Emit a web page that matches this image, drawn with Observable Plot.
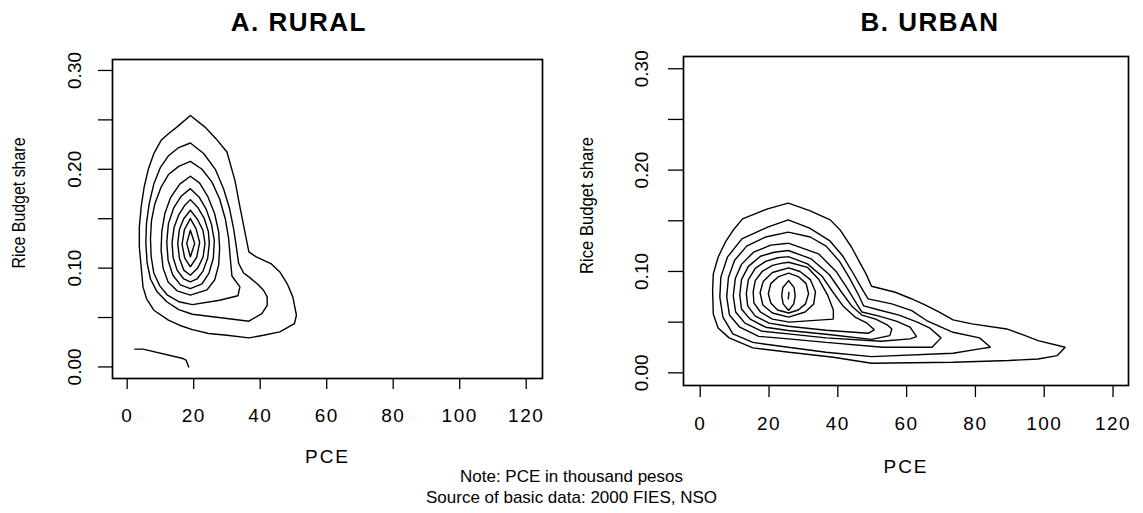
<!DOCTYPE html>
<html>
<head>
<meta charset="utf-8">
<script src="https://cdn.jsdelivr.net/npm/d3@7"></script>
<script src="https://cdn.jsdelivr.net/npm/@observablehq/plot@0.6"></script>
<style>
  html, body { margin: 0; padding: 0; background: #fff; }
  #wrap { position: relative; width: 1143px; height: 513px; font-family: "Liberation Sans", Arial, sans-serif; }
  #wrap svg { position: absolute; top: 0; }
  g[aria-label="x-axis tick label"] text { letter-spacing: 1.5px; }
  .pce { letter-spacing: 2px; }
  .ttl { letter-spacing: 1.5px; }
  #caption { position: absolute; left: 0; width: 1143px; top: 466px; text-align: center; font-size: 17px; line-height: 21px; color: #000; }
</style>
</head>
<body>
<div id="wrap"></div>
<script>
// ---------- Tick values ----------
const xTicks = [0, 20, 40, 60, 80, 100, 120];
const yTicks = [0, 0.05, 0.10, 0.15, 0.20, 0.25, 0.30];
const yLabelTicks = [0, 0.10, 0.20, 0.30];

// ---------- Panel titles / labels ----------
const titleRural = "A. RURAL";
const titleUrban = "B. URBAN";
const xLabel = "PCE";
const yLabel = "Rice Budget share";
const captionLines = ["Note: PCE in thousand pesos", "Source of basic data: 2000 FIES, NSO"];

// ---------- Rural contours [PCE, share] (outer -> inner) ----------
const rural1 = [[19.0,0.2545],[23.4,0.2427],[26.7,0.2310],[30.0,0.2175],[32.4,0.1888],[33.9,0.1619],[35.5,0.1349],[36.6,0.1164],[38.8,0.1113],[43.2,0.1046],[45.9,0.0961],[48.1,0.0844],[49.8,0.0709],[50.9,0.0523],[50.3,0.0439],[45.9,0.0355],[41.0,0.0321],[36.6,0.0294],[30.0,0.0321],[24.5,0.0338],[19.6,0.0378],[15.7,0.0422],[12.4,0.0473],[8.0,0.0574],[5.8,0.0692],[4.75,0.0810],[4.2,0.1012],[3.65,0.1214],[3.65,0.1416],[4.2,0.1619],[5.1,0.1821],[6.4,0.2006],[8.0,0.2158],[10.2,0.2293],[12.4,0.2360],[15.2,0.2434]];
const rural2 = [[19.0,0.2266],[23.0,0.216],[26.5,0.200],[29.0,0.180],[30.8,0.160],[32.0,0.140],[32.8,0.122],[33.5,0.105],[35.0,0.095],[36.6,0.0911],[39.5,0.083],[41.0,0.0776],[42.1,0.0709],[42.1,0.0624],[40.5,0.0540],[36.6,0.0463],[30.0,0.0490],[19.6,0.0533],[15.5,0.058],[11.9,0.066],[9.0,0.076],[7.0,0.089],[6.0,0.105],[5.6,0.125],[5.8,0.145],[6.6,0.165],[8.0,0.185],[10.0,0.202],[12.5,0.214],[15.5,0.222]];
const rural3 = [[19.0,0.2080],[22.5,0.200],[25.5,0.187],[27.8,0.170],[29.5,0.150],[30.5,0.130],[31.0,0.110],[31.5,0.092],[33.9,0.081],[33.3,0.072],[27.8,0.0675],[19.6,0.0631],[15.5,0.066],[12.0,0.073],[9.8,0.082],[8.0,0.095],[7.2,0.112],[7.0,0.130],[7.3,0.148],[8.3,0.165],[10.2,0.182],[12.5,0.195],[15.5,0.203]];
const rural4 = [[19.0,0.1929],[21.8,0.186],[24.3,0.172],[26.3,0.155],[27.5,0.137],[27.8,0.120],[27.5,0.103],[26.3,0.088],[24.0,0.078],[19.0,0.0726],[15.0,0.077],[12.3,0.086],[10.8,0.100],[10.2,0.118],[10.4,0.137],[11.3,0.155],[13.0,0.171],[15.8,0.185]];
const rural5 = [[19.0,0.1804],[21.6,0.172],[23.7,0.160],[25.3,0.145],[26.2,0.128],[25.9,0.110],[24.6,0.095],[22.5,0.084],[19.0,0.0793],[16.0,0.083],[13.7,0.093],[12.3,0.108],[11.9,0.126],[12.4,0.145],[14.0,0.161],[16.3,0.173]];
const rural6 = [[19.0,0.1693],[21.3,0.161],[23.2,0.150],[24.4,0.137],[24.7,0.125],[24.2,0.110],[22.8,0.097],[21.0,0.089],[19.0,0.0860],[17.0,0.089],[15.0,0.098],[13.8,0.111],[13.5,0.126],[14.1,0.141],[15.5,0.154],[17.2,0.163]];
const rural7 = [[19.0,0.1585],[21.2,0.149],[22.8,0.138],[23.4,0.125],[22.8,0.111],[21.2,0.100],[19.0,0.0928],[17.0,0.098],[15.7,0.110],[15.2,0.125],[15.7,0.139],[17.0,0.150]];
const rural8 = [[19.0,0.1501],[20.7,0.140],[21.8,0.126],[20.9,0.111],[19.0,0.1012],[17.3,0.110],[16.5,0.124],[17.2,0.139]];
const rural9 = [[19.0,0.1383],[20.3,0.125],[19.0,0.1113],[17.9,0.125]];
const ruralOpen = [[2.3,0.018],[4.75,0.018],[16.8,0.0085],[17.7,0.0069],[18.5,0.0]];

// ---------- Urban contours [PCE, share] (outer -> inner) ----------
const urban1 = [[25.6,0.1674],[31.8,0.1601],[37.8,0.1509],[40.8,0.1404],[44.0,0.1239],[46.6,0.1075],[48.2,0.0976],[49.8,0.0854],[56.7,0.0795],[61.0,0.0736],[65.2,0.0674],[69.5,0.0598],[73.5,0.0522],[79.0,0.0483],[89.1,0.0433],[93.9,0.0374],[98.2,0.0318],[106.1,0.0252],[103.8,0.0170],[98.2,0.0137],[89.7,0.0121],[73.5,0.0104],[49.8,0.0094],[38.7,0.0154],[25.9,0.0203],[15.3,0.0246],[8.4,0.0345],[5.2,0.0443],[3.8,0.0581],[3.6,0.0812],[3.8,0.0976],[5.2,0.1141],[7.3,0.1289],[9.5,0.1404],[12.3,0.1519],[19.6,0.1618]];
const urban2 = [[25.6,0.1509],[31.8,0.1427],[37.6,0.1305],[41.5,0.1150],[44.5,0.0980],[47.0,0.0830],[48.8,0.0730],[55.7,0.0680],[61.5,0.0614],[65.8,0.0516],[73.5,0.0400],[81.2,0.0345],[84.4,0.0252],[81.2,0.0236],[73.5,0.0193],[49.8,0.0160],[36.6,0.0203],[25.6,0.0252],[15.3,0.0300],[9.5,0.0384],[6.6,0.055],[5.7,0.0746],[6.0,0.0944],[7.9,0.1141],[12.1,0.1322],[19.6,0.1437]];
const urban3 = [[25.6,0.1388],[32.0,0.1340],[36.6,0.1250],[40.5,0.1100],[43.5,0.0930],[46.0,0.0770],[47.5,0.0660],[52.0,0.0620],[57.8,0.0570],[63.1,0.0500],[66.8,0.0440],[70.0,0.0345],[67.4,0.0252],[53.0,0.0252],[36.6,0.0300],[25.6,0.0335],[17.0,0.036],[11.5,0.045],[8.5,0.057],[7.7,0.075],[8.2,0.094],[10.0,0.111],[13.5,0.125],[19.0,0.134]];
const urban4 = [[25.6,0.1279],[34.4,0.1174],[39.5,0.1000],[42.8,0.0830],[45.5,0.0680],[47.0,0.0600],[52.0,0.0560],[57.0,0.0510],[61.0,0.0450],[62.9,0.0358],[61.0,0.0335],[52.5,0.0312],[36.6,0.0345],[25.6,0.0384],[18.0,0.041],[13.0,0.049],[10.3,0.060],[9.6,0.076],[10.2,0.093],[12.0,0.107],[15.5,0.119],[20.5,0.126]];
const urban5 = [[25.6,0.1207],[32.3,0.1124],[37.5,0.0970],[41.0,0.0800],[44.0,0.0660],[47.0,0.0570],[51.0,0.0530],[54.5,0.0470],[55.7,0.0433],[55.1,0.0367],[49.8,0.0330],[36.6,0.0380],[25.6,0.0417],[19.0,0.045],[14.5,0.053],[12.0,0.063],[11.5,0.077],[12.0,0.092],[14.0,0.105],[17.5,0.115],[21.5,0.119]];
const urban6 = [[25.6,0.1147],[31.2,0.1075],[35.5,0.0950],[38.5,0.0800],[41.5,0.0660],[45.0,0.0550],[48.5,0.0490],[50.6,0.0424],[48.8,0.0390],[36.6,0.0420],[25.6,0.0460],[20.0,0.049],[16.0,0.056],[13.8,0.066],[13.4,0.078],[14.0,0.092],[16.0,0.103],[19.0,0.110],[22.5,0.1135]];
const urban7 = [[25.7,0.1091],[31.2,0.1040],[34.5,0.0920],[37.0,0.0770],[38.7,0.0620],[38.7,0.0530],[25.9,0.0500],[21.0,0.053],[17.5,0.060],[15.6,0.069],[15.4,0.080],[16.0,0.091],[18.0,0.100],[21.0,0.106],[23.5,0.108]];
const urban8 = [[25.7,0.1036],[29.0,0.100],[32.0,0.092],[33.5,0.080],[33.0,0.068],[30.5,0.060],[25.7,0.055],[21.0,0.059],[18.2,0.067],[17.4,0.079],[18.3,0.090],[21.0,0.099]];
const urban9 = [[25.7,0.0983],[28.5,0.095],[30.8,0.088],[31.5,0.078],[30.6,0.068],[28.5,0.062],[25.7,0.059],[22.5,0.062],[20.5,0.069],[19.8,0.078],[20.5,0.088],[22.8,0.095]];
const urban10 = [[25.7,0.0910],[27.3,0.084],[27.6,0.076],[27.2,0.068],[25.7,0.0615],[24.1,0.068],[23.7,0.076],[24.0,0.084]];
const urbanOpen = [[25.8,0.0795],[25.6,0.0730]];

// ---------- build tables ----------
function table(rings, open) {
  const rows = [];
  rings.forEach((ring, i) => {
    ring.concat([ring[0]]).forEach(([x, y]) => rows.push({id: "c" + i, x, y}));
  });
  open.forEach((line, i) => line.forEach(([x, y]) => rows.push({id: "o" + i, x, y})));
  return rows;
}
const ruralData = table([rural1, rural2, rural3, rural4, rural5, rural6, rural7, rural8, rural9], [ruralOpen]);
const urbanData = table([urban1, urban2, urban3, urban4, urban5, urban6, urban7, urban8, urban9, urban10], [urbanOpen]);

const FONT = '"Liberation Sans", Arial, sans-serif';
const fmt = d => d.toFixed(2);

function panel(cfg) {
  const p = Plot.plot({
    width: cfg.width, height: 513,
    marginLeft: cfg.ml, marginRight: cfg.mr, marginTop: cfg.mt, marginBottom: cfg.mb,
    x: {domain: cfg.xd},
    y: {domain: cfg.yd},
    style: {fontFamily: FONT, fontSize: "19px", color: "#000", background: "transparent", overflow: "visible"},
    marks: [
      Plot.frame({stroke: "#000", strokeWidth: 1.7}),
      Plot.axisX(xTicks, {anchor: "bottom", tickSize: cfg.xts, tickPadding: cfg.xtp, fontSize: 19, label: null, strokeWidth: 1.3}),
      Plot.axisY(yTicks, {anchor: "left", tickSize: cfg.yts, tickFormat: () => "", label: null, strokeWidth: 1.3}),
      Plot.text(yLabelTicks, {y: d => d, frameAnchor: "left", dx: cfg.ytdx, rotate: -90, text: fmt, fontSize: 19, textAnchor: "middle", lineAnchor: "middle"}),
      Plot.line(cfg.data, {x: "x", y: "y", z: "id", stroke: "#000", strokeWidth: 1.4, strokeLinejoin: "miter"}),
      Plot.text([yLabel], {frameAnchor: "left", dx: cfg.yldx, dy: cfg.yldy, rotate: -90, fontSize: 19, textAnchor: "middle", lineAnchor: "middle", className: "ylab"}),
      Plot.text([xLabel], {frameAnchor: "bottom", dy: cfg.xldy, fontSize: 19, lineAnchor: "middle", className: "pce"}),
      Plot.text([cfg.title], {frameAnchor: "top", dx: cfg.tdx, dy: cfg.tdy, fontSize: 26, fontWeight: "bold", lineAnchor: "middle", className: "ttl"})
    ]
  });
  p.style.left = cfg.left + "px";
  d3.select(p).selectAll(".ylab text").attr("textLength", cfg.yll).attr("lengthAdjust", "spacingAndGlyphs");
  return p;
}

const wrap = document.getElementById("wrap");
wrap.appendChild(panel({
  left: 0, width: 571, ml: 112, mr: 29, mt: 59, mb: 135,
  xd: [-4.42, 124.9], yd: [-0.0117, 0.3111],
  xts: 11, xtp: 19, yts: 14, ytdx: -37.7, yldx: -93.4, yldy: -16, yll: 131, xldy: 78.7,
  tdx: -28.7, tdy: -37, title: titleRural, data: ruralData
}));
wrap.appendChild(panel({
  left: 570, width: 573, ml: 113, mr: 15, mt: 56, mb: 128,
  xd: [-4.86, 124.5], yd: [-0.0125, 0.3121],
  xts: 12, xtp: 19, yts: 15, ytdx: -41.6, yldx: -97, yldy: -15.5, yll: 137, xldy: 81.7,
  tdx: 24, tdy: -34, title: titleUrban, data: urbanData
}));

const cap = document.createElement("div");
cap.id = "caption";
cap.innerHTML = captionLines.map(t => `<div>${t}</div>`).join("");
wrap.appendChild(cap);
</script>
</body>
</html>
